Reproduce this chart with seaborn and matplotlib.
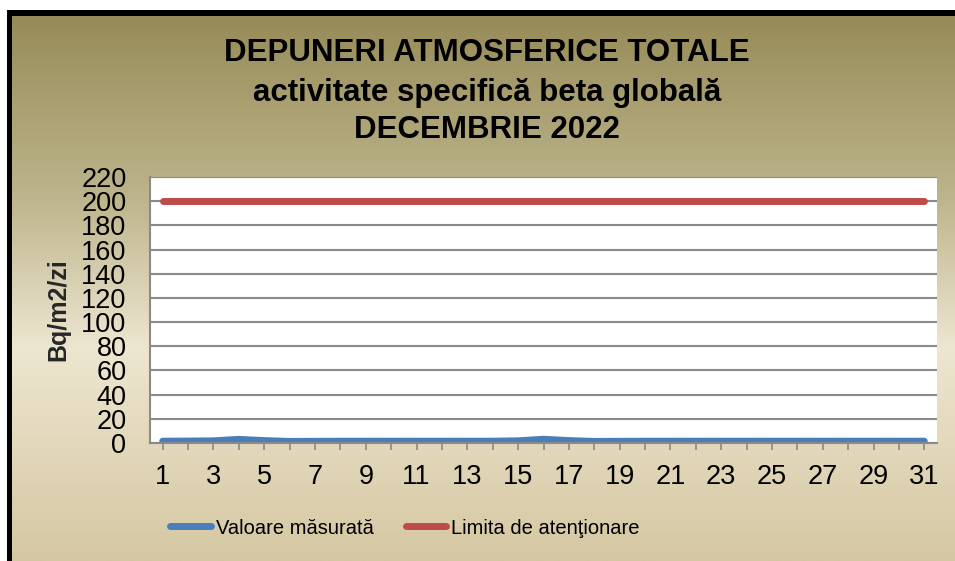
import matplotlib
matplotlib.use("Agg")
import matplotlib.pyplot as plt
import numpy as np
import pandas as pd
import seaborn as sns
from matplotlib.colors import LinearSegmentedColormap
from matplotlib.patches import Rectangle

# data
days = list(range(1, 32))
measured = [1.5, 1.6, 1.8, 3.0, 2.0, 1.3, 1.4, 1.5, 1.5, 1.5, 1.5, 1.5, 1.5, 1.5, 1.8,
            3.1, 2.0, 1.3, 1.4, 1.5, 1.5, 1.5, 1.5, 1.5, 1.5, 1.5, 1.5, 1.5, 1.5, 1.5, 1.5]
limit = [200] * 31
y_ticks = list(range(0, 221, 20))
x_labels = [str(d) if d % 2 == 1 else "" for d in days]

title_lines = ["DEPUNERI ATMOSFERICE TOTALE", "activitate specifică beta globală", "DECEMBRIE 2022"]
series_names = ["Valoare măsurată", "Limita de atenţionare"]

df = pd.DataFrame({"zi": days, series_names[0]: measured, series_names[1]: limit})

sns.set_theme(style="white")
plt.rcParams["font.family"] = ["Liberation Sans", "DejaVu Sans"]

W, H = 955, 561
fig = plt.figure(figsize=(W / 100, H / 100), dpi=100)

# gradient background
bg = fig.add_axes([0, 0, 1, 1], zorder=-10)
cmap = LinearSegmentedColormap.from_list("bg", [
    (0.0, "#938853"), (0.35, "#bdb48c"), (0.62, "#ede6d0"), (1.0, "#d5c7a2")])
grad = np.linspace(0, 1, 256).reshape(-1, 1)
bg.imshow(grad, aspect="auto", cmap=cmap, extent=[0, 1, 0, 1], origin="upper")
bg.set_xlim(0, 1)
bg.set_ylim(0, 1)
bg.axis("off")
# white margin + black frame (top/left)
bg.add_patch(Rectangle((0, 1 - 10 / H), 1, 10 / H, color="white", lw=0))
bg.add_patch(Rectangle((0, 0), 7 / W, 1, color="white", lw=0))
bg.add_patch(Rectangle((7 / W, 1 - 16 / H), 1, 6 / H, color="black", lw=0))
bg.add_patch(Rectangle((7 / W, 0), 5 / W, 1 - 10 / H, color="black", lw=0))

ax = fig.add_axes([150 / W, 1 - 443 / H, (937 - 150) / W, (443 - 177) / H])
ax.set_facecolor("white")

sns.lineplot(data=df, x="zi", y=series_names[0], ax=ax, color="#4a7ebb",
             linewidth=5, solid_capstyle="round", label=series_names[0], legend=False)
sns.lineplot(data=df, x="zi", y=series_names[1], ax=ax, color="#be4b48",
             linewidth=5, solid_capstyle="round", label=series_names[1], legend=False)

ax.set_xlim(0.5, 31.5)
ax.set_ylim(0, 220)
ax.set_yticks(y_ticks)
ax.set_xticks(days)
ax.set_xticklabels(x_labels)
ax.yaxis.grid(True, color="#8a8a8a", linewidth=1.5)
ax.set_axisbelow(True)
for s in ["top", "right"]:
    ax.spines[s].set_visible(False)
for s in ["left", "bottom"]:
    ax.spines[s].set_color("#8a8a8a")
    ax.spines[s].set_linewidth(1.5)
ax.tick_params(axis="y", length=0, labelsize=19.5, pad=17, colors="black")
ax.tick_params(axis="x", length=5, width=1.2, color="#8a8a8a", labelsize=19.5, pad=10,
               labelcolor="black", direction="out", bottom=True)
ax.set_xlabel("")
ax.set_ylabel("Bq/m2/zi", fontsize=18, fontweight="bold")
ax.yaxis.set_label_coords(-80 / (937 - 150), 0.5)

ys = [53, 93, 130]
for line, y in zip(title_lines, ys):
    fig.text(487 / W, 1 - y / H, line, ha="center", va="center", fontsize=22.5,
             fontweight="bold", color="black")

handles, labels = ax.get_legend_handles_labels()
fig.legend(handles, labels, loc="center", bbox_to_anchor=(405 / W, 1 - 528 / H), ncol=2,
           frameon=False, fontsize=14.5, handlelength=2.0, handletextpad=0.25,
           columnspacing=1.6, labelcolor="black")

fig.savefig("out.png", dpi=100)
